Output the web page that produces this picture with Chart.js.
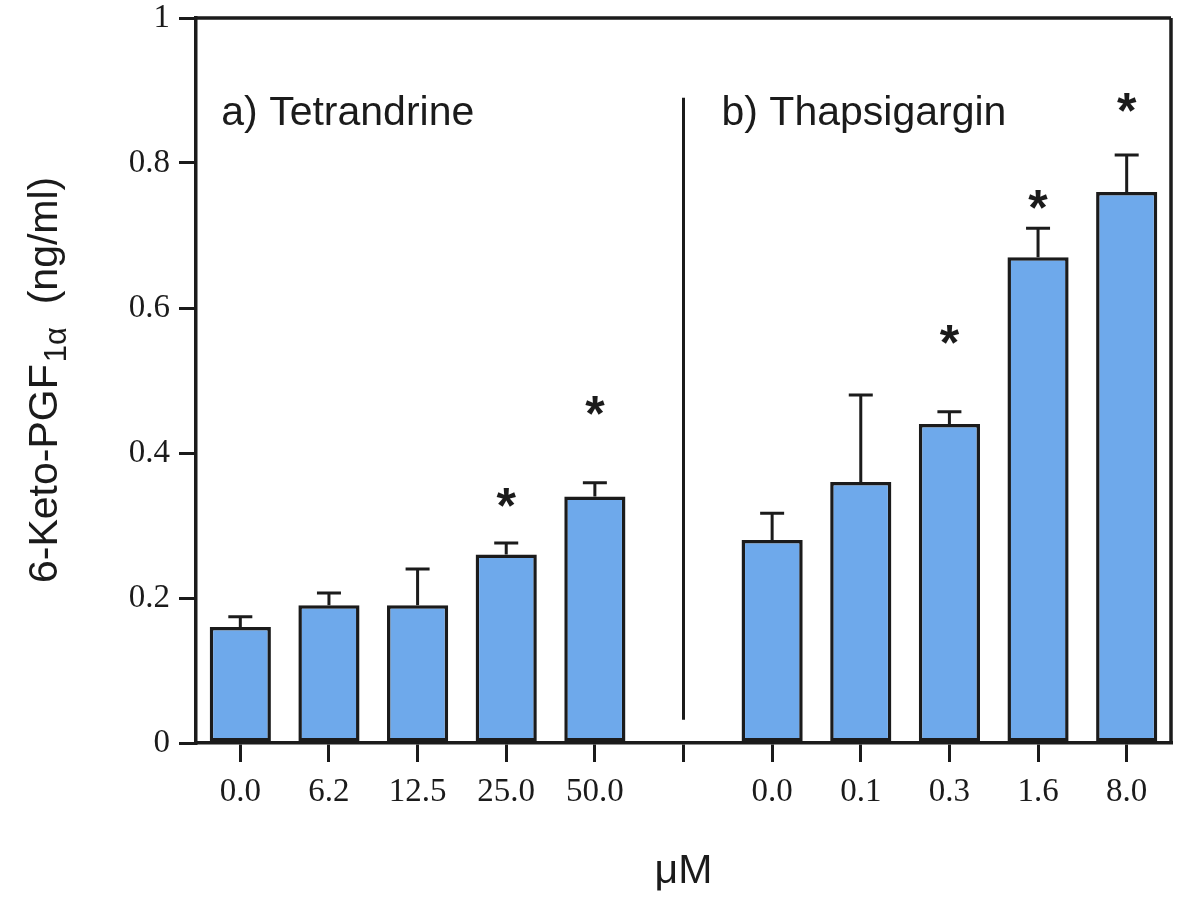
<!DOCTYPE html>
<html>
<head>
<meta charset="utf-8">
<script src="https://cdn.jsdelivr.net/npm/chart.js@4.4.1/dist/chart.umd.min.js"></script>
<style>
  html, body { margin: 0; padding: 0; background: #fff; }
  #wrap { width: 1200px; height: 907px; }
</style>
</head>
<body>
<div id="wrap"><canvas id="myChart" width="1200" height="907"></canvas></div>
<script>
// concentrations (uM); empty slot separates the two panels
const categories = ['0.0', '6.2', '12.5', '25.0', '50.0', '', '0.0', '0.1', '0.3', '1.6', '8.0'];
// 6-keto-PGF1a, ng/ml
const means = [0.16, 0.19, 0.19, 0.26, 0.34, null, 0.28, 0.36, 0.44, 0.67, 0.76];
// top of error bars (mean + SE)
const errTops = [0.174, 0.207, 0.24, 0.276, 0.359, null, 0.317, 0.48, 0.457, 0.71, 0.811];
// where the significance stars sit
const starLevels = [null, null, null, 0.338, 0.466, null, null, null, 0.563, 0.749, 0.883];
const yTicks = [0, 0.2, 0.4, 0.6, 0.8, 1];
const panelLabels = ['a) Tetrandrine', 'b) Thapsigargin'];
const gapIndex = 5;

const ink = '#1b1b1b';
const sans = '"Liberation Sans", Arial, sans-serif';
const serif = '"Liberation Serif", "Times New Roman", serif';

const extras = {
    id: 'extras',
    afterDatasetsDraw(chart) {
        var ctx = chart.ctx;
        var area = chart.chartArea;
        var x = chart.scales.x;
        var y = chart.scales.y;
        var bars = chart.getDatasetMeta(0).data;

        ctx.save();
        ctx.strokeStyle = ink;
        ctx.lineCap = 'butt';

        // frame: top and right
        ctx.lineWidth = 3.5;
        ctx.beginPath();
        ctx.moveTo(area.left, area.top);
        ctx.lineTo(area.right, area.top);
        ctx.moveTo(area.right, area.top);
        ctx.lineTo(area.right, area.bottom);
        ctx.stroke();

        // error bars (upper only)
        ctx.lineWidth = 3;
        for (var i = 0; i < errTops.length; i++) {
            if (errTops[i] == null) continue;
            var bx = bars[i].x;
            var top = y.getPixelForValue(errTops[i]);
            var base = y.getPixelForValue(means[i]);
            ctx.beginPath();
            ctx.moveTo(bx, base);
            ctx.lineTo(bx, top);
            ctx.moveTo(bx - 12, top);
            ctx.lineTo(bx + 12, top);
            ctx.stroke();
        }

        // divider between panels
        var gx = x.getPixelForValue(gapIndex);
        ctx.lineWidth = 3;
        ctx.beginPath();
        ctx.moveTo(gx, y.getPixelForValue(0.89));
        ctx.lineTo(gx, y.getPixelForValue(0.032));
        ctx.stroke();

        // stars
        ctx.fillStyle = ink;
        ctx.font = 'bold 50px ' + sans;
        ctx.textAlign = 'center';
        ctx.textBaseline = 'alphabetic';
        var m = ctx.measureText('*');
        var mid = (m.actualBoundingBoxAscent - m.actualBoundingBoxDescent) / 2;
        for (var j = 0; j < starLevels.length; j++) {
            if (starLevels[j] == null) continue;
            ctx.fillText('*', bars[j].x, y.getPixelForValue(starLevels[j]) + mid);
        }

        // panel labels
        ctx.font = '41px ' + sans;
        ctx.textAlign = 'left';
        var ly = y.getPixelForValue(0.852);
        ctx.fillText(panelLabels[0], x.getPixelForValue(0) - 19, ly);
        ctx.fillText(panelLabels[1], gx + 38, ly);

        // x title
        ctx.textAlign = 'center';
        ctx.fillText('\u03bcM', gx, 883);

        // y title with subscript
        ctx.translate(57, 583);
        ctx.rotate(-Math.PI / 2);
        ctx.textAlign = 'left';
        ctx.font = '41px ' + sans;
        var part1 = '6-Keto-PGF';
        ctx.fillText(part1, 0, 0);
        var px = ctx.measureText(part1).width + 2;
        ctx.font = '31px ' + sans;
        ctx.fillText('1\u03b1', px, 9);
        px += ctx.measureText('1\u03b1').width;
        ctx.font = '41px ' + sans;
        ctx.fillText('  (ng/ml)', px, 0);
        ctx.restore();
    }
};

new Chart('myChart', {
    type: 'bar',
    data: {
        labels: categories,
        datasets: [{
            data: means,
            backgroundColor: '#6ea9eb',
            borderColor: ink,
            borderWidth: 3.5,
            borderSkipped: false,
            barPercentage: 0.69,
            categoryPercentage: 1
        }]
    },
    options: {
        responsive: false,
        animation: false,
        devicePixelRatio: 1,
        layout: { padding: { top: 18, right: 29, left: 0, bottom: 0 } },
        plugins: {
            legend: { display: false },
            tooltip: { enabled: false }
        },
        scales: {
            x: {
                offset: true,
                grid: {
                    offset: false,
                    drawOnChartArea: false,
                    drawTicks: true,
                    tickLength: 19,
                    color: ink,
                    lineWidth: 3
                },
                border: { display: true, color: ink, width: 3.5 },
                ticks: {
                    color: ink,
                    padding: 11,
                    maxRotation: 0,
                    autoSkip: false,
                    font: { family: serif, size: 33 }
                },
                afterFit(scale) {
                    scale.height = 164;
                    scale.paddingLeft = 0;
                    scale.paddingRight = 0;
                }
            },
            y: {
                min: 0,
                max: 1,
                afterBuildTicks(scale) {
                    scale.ticks = yTicks.map(v => ({ value: v }));
                },
                grid: {
                    drawOnChartArea: false,
                    drawTicks: true,
                    tickLength: 17,
                    color: ink,
                    lineWidth: 3
                },
                border: { display: true, color: ink, width: 3.5 },
                ticks: {
                    color: ink,
                    padding: 9,
                    font: { family: serif, size: 33 },
                    callback: v => String(v)
                },
                afterFit(scale) {
                    scale.width = 196;
                    scale.paddingTop = 0;
                    scale.paddingBottom = 0;
                }
            }
        }
    },
    plugins: [extras]
});
</script>
</body>
</html>
